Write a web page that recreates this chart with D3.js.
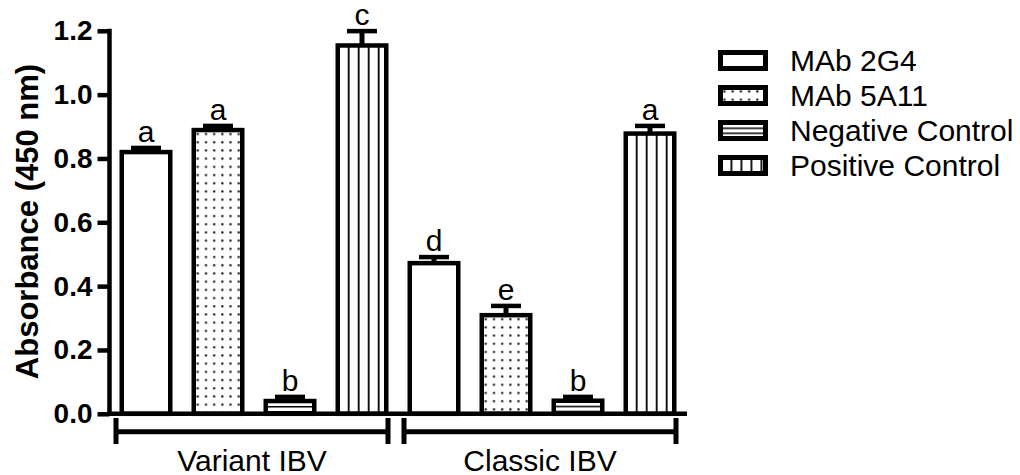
<!DOCTYPE html>
<html>
<head>
<meta charset="utf-8">
<script src="https://cdn.jsdelivr.net/npm/d3@7"></script>
<style>
  body { margin: 0; background: #fff; }
  text { font-family: "Liberation Sans", Arial, sans-serif; fill: #000; }
</style>
</head>
<body>
<svg width="1020" height="475"></svg>
<script>
// data
var groups = ["Variant IBV", "Classic IBV"];
var series = ["MAb 2G4", "MAb 5A11", "Negative Control", "Positive Control"];
var variantMeans = [0.820, 0.889, 0.040, 1.154];
var variantErrors = [0.013, 0.013, 0.013, 0.045];
var variantLetters = ["a", "a", "b", "c"];
var classicMeans = [0.472, 0.309, 0.041, 0.878];
var classicErrors = [0.019, 0.029, 0.012, 0.024];
var classicLetters = ["d", "e", "b", "a"];
var yTicks = [0, 0.2, 0.4, 0.6, 0.8, 1.0, 1.2];

var fillKinds = ["none", "dots", "hlines", "vlines"];

// table built from the arrays above
var rows = [];
series.forEach(function (s, i) {
  rows.push({ group: groups[0], series: s, i: i, mean: variantMeans[i], err: variantErrors[i], letter: variantLetters[i] });
  rows.push({ group: groups[1], series: s, i: i, mean: classicMeans[i], err: classicErrors[i], letter: classicLetters[i] });
});

var svg = d3.select("svg");
var defs = svg.append("defs");
var sw = 4.5; // stroke width used for bars and axes

var y = d3.scaleLinear().domain([0, 1.2]).range([413.8, 30.8]);
var x0 = d3.scaleBand().domain(groups).range([110, 686]).padding(0);
var x1 = d3.scaleBand().domain(series).range([0, x0.bandwidth()])
  .paddingInner(0.264).paddingOuter(0.132);

// makes a fill pattern anchored at (px, py) so the hatching lines up with each box
function makePattern(id, kind, px, py) {
  if (kind === "none") return "#fff";
  var p = defs.append("pattern").attr("id", id)
    .attr("patternUnits", "userSpaceOnUse")
    .attr("x", px).attr("y", py);
  if (kind === "dots") {
    p.attr("width", 8.2).attr("height", 8.2);
    p.append("rect").attr("width", 8.2).attr("height", 8.2).attr("fill", "#fff");
    p.append("rect").attr("x", 3).attr("y", 3).attr("width", 2).attr("height", 2).attr("fill", "#000");
  } else if (kind === "hlines") {
    p.attr("width", 10).attr("height", 5);
    p.append("rect").attr("width", 10).attr("height", 5).attr("fill", "#fff");
    p.append("line").attr("x1", 0).attr("x2", 10).attr("y1", 0.75).attr("y2", 0.75)
      .attr("stroke", "#000").attr("stroke-width", 1.5);
  } else if (kind === "vlines") {
    p.attr("width", 10).attr("height", 10);
    p.append("rect").attr("width", 10).attr("height", 10).attr("fill", "#fff");
    p.append("line").attr("x1", 0.9).attr("x2", 0.9).attr("y1", 0).attr("y2", 10)
      .attr("stroke", "#000").attr("stroke-width", 1.8);
  }
  return "url(#" + id + ")";
}

// bars
var bars = svg.append("g").attr("class", "bars");
rows.forEach(function (d, k) {
  var bx = x0(d.group) + x1(d.series) + sw / 2;
  var bw = x1.bandwidth() - sw;
  var top = y(d.mean);
  var fill = makePattern("bar-pat-" + k, fillKinds[d.i], bx, top);
  bars.append("rect")
    .attr("x", bx).attr("y", top)
    .attr("width", bw).attr("height", y(0) - top)
    .attr("fill", fill)
    .attr("stroke", "#000").attr("stroke-width", sw);
});

// error bars (upper only) and letters
var errs = svg.append("g").attr("class", "errors");
rows.forEach(function (d) {
  var cx = x0(d.group) + x1(d.series) + x1.bandwidth() / 2;
  var yTop = y(d.mean + d.err);
  errs.append("line")
    .attr("x1", cx).attr("x2", cx).attr("y1", y(d.mean)).attr("y2", yTop)
    .attr("stroke", "#000").attr("stroke-width", 5);
  errs.append("line")
    .attr("x1", cx - 15).attr("x2", cx + 15).attr("y1", yTop).attr("y2", yTop)
    .attr("stroke", "#000").attr("stroke-width", sw);
  errs.append("text")
    .attr("x", cx).attr("y", yTop - 6)
    .attr("text-anchor", "middle")
    .style("font-size", "30px")
    .text(d.letter);
});

// y axis
var yAxis = svg.append("g")
  .attr("transform", "translate(109.5,0)")
  .call(d3.axisLeft(y).tickValues(yTicks).tickFormat(d3.format(".1f"))
    .tickSize(12).tickSizeOuter(0).tickPadding(5));
yAxis.select(".domain").attr("stroke", "#000").attr("stroke-width", sw)
  .attr("d", "M0," + (y(1.2) - 2) + "V" + (y(0) + 2));
yAxis.selectAll(".tick line").attr("stroke", "#000").attr("stroke-width", sw);
yAxis.selectAll(".tick text")
  .style("font-size", "28px").style("font-weight", "bold")
  .style("font-family", "'Liberation Sans', Arial, sans-serif");

// x baseline
svg.append("line")
  .attr("x1", 107.3).attr("x2", 687)
  .attr("y1", y(0)).attr("y2", y(0))
  .attr("stroke", "#000").attr("stroke-width", sw);

// group brackets and labels
var gb = svg.append("g").attr("class", "group-brackets");
groups.forEach(function (g) {
  var c = x0(g) + x0.bandwidth() / 2 - 2;
  var l = c - 136, r = c + 136;
  gb.append("path")
    .attr("d", "M" + l + ",418V444M" + l + ",431.7H" + r + "M" + r + ",418V444")
    .attr("fill", "none").attr("stroke", "#000").attr("stroke-width", 5);
  gb.append("text")
    .attr("x", c).attr("y", 470.5)
    .attr("text-anchor", "middle")
    .style("font-size", "30px")
    .text(g);
});

// y title
svg.append("text")
  .attr("transform", "translate(38,221.5) rotate(-90)")
  .attr("text-anchor", "middle")
  .style("font-size", "31px").style("font-weight", "bold")
  .text("Absorbance (450 nm)");

// legend
var legend = svg.append("g").attr("class", "legend");
series.forEach(function (s, i) {
  var cy = 60.5 + i * 35;
  var fill = makePattern("leg-pat-" + i, fillKinds[i], 720.5, cy - 8);
  legend.append("rect")
    .attr("x", 720.5).attr("y", cy - 8)
    .attr("width", 45).attr("height", 16)
    .attr("fill", fill)
    .attr("stroke", "#000").attr("stroke-width", 5);
  legend.append("text")
    .attr("x", 790).attr("y", cy).attr("dy", "0.35em")
    .style("font-size", "30px")
    .text(s);
});
</script>
</body>
</html>
